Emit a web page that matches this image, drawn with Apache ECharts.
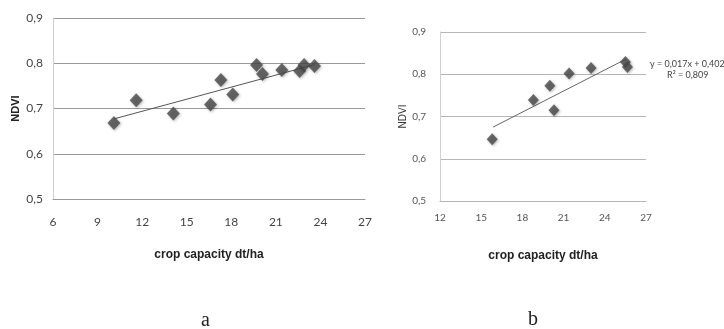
<!DOCTYPE html>
<html>
<head>
<meta charset="utf-8">
<script src="https://cdn.jsdelivr.net/npm/echarts@6/dist/echarts.min.js"></script>
<style>
  html, body { margin: 0; padding: 0; background: #fff; }
  #chart { width: 724px; height: 329px; }
</style>
</head>
<body>
<div id="chart"></div>
<script>
// field a: crop capacity (dt/ha) vs NDVI
const capacityA = [10.1, 11.6, 14.1, 16.6, 17.3, 18.1, 19.7, 20.1, 21.4, 22.6, 22.9, 23.6];
const ndviA = [0.668, 0.718, 0.689, 0.709, 0.763, 0.731, 0.796, 0.776, 0.785, 0.783, 0.796, 0.794];
const trendA = [[10.1, 0.677], [23.6, 0.797]];

// field b
const capacityB = [15.8, 18.8, 20.0, 20.3, 21.4, 23.0, 25.5, 25.65];
const ndviB = [0.646, 0.739, 0.773, 0.715, 0.802, 0.815, 0.829, 0.817];
const trendB = [[15.87, 0.675], [25.55, 0.836]];

const ticksY = [0.5, 0.6, 0.7, 0.8, 0.9];
const xRangeA = [6, 27];
const xRangeB = [12, 27];

const fmt = v => String(+v.toFixed(1)).replace('.', ',');
const pairs = (xs, ys) => xs.map((x, i) => [x, ys[i]]);

const myChart = echarts.init(document.getElementById('chart'), null, { renderer: 'canvas' });

const markerStyle = {
  color: '#474747',
  shadowColor: 'rgba(0,0,0,0.35)',
  shadowBlur: 3,
  shadowOffsetX: 1,
  shadowOffsetY: 1,
};

const option = {
  backgroundColor: '#fff',
  animation: false,
  grid: [
    { left: 53, right: 359, top: 18, bottom: 130 },
    { left: 440, right: 78, top: 32, bottom: 128 },
  ],
  xAxis: [
    {
      gridIndex: 0, type: 'value', min: xRangeA[0], max: xRangeA[1], interval: 3,
      name: 'crop capacity dt/ha', nameLocation: 'middle', nameGap: 50,
      nameTextStyle: { fontFamily: 'Liberation Sans', fontWeight: 'bold', fontSize: 12, color: '#222' },
      axisLine: { show: true, lineStyle: { color: '#9a9a9a' } },
      axisTick: { show: false },
      splitLine: { show: false },
      axisLabel: { margin: 17, fontFamily: 'Lato', fontSize: 12, color: '#444' },
    },
    {
      gridIndex: 1, type: 'value', min: xRangeB[0], max: xRangeB[1], interval: 3,
      name: 'crop capacity dt/ha', nameLocation: 'middle', nameGap: 49,
      nameTextStyle: { fontFamily: 'Liberation Sans', fontWeight: 'bold', fontSize: 12, color: '#222' },
      axisLine: { show: true, lineStyle: { color: '#b5b5b5' } },
      axisTick: { show: false },
      splitLine: { show: false },
      axisLabel: { margin: 12, fontFamily: 'Lato', fontSize: 10, color: '#555' },
    },
  ],
  yAxis: [
    {
      gridIndex: 0, type: 'value', min: ticksY[0], max: ticksY[ticksY.length - 1], interval: 0.1,
      name: 'NDVI', nameLocation: 'middle', nameGap: 32, nameRotate: 90,
      nameTextStyle: { fontFamily: 'Liberation Sans', fontWeight: 'bold', fontSize: 11, color: '#222' },
      axisLine: { show: true, lineStyle: { color: '#d0d0d0' } },
      axisTick: { show: false },
      splitLine: { show: true, lineStyle: { color: '#9a9a9a' } },
      axisLabel: { margin: 10, fontFamily: 'Lato', fontSize: 12, color: '#444', formatter: fmt },
    },
    {
      gridIndex: 1, type: 'value', min: ticksY[0], max: ticksY[ticksY.length - 1], interval: 0.1,
      name: 'NDVI', nameLocation: 'middle', nameGap: 26, nameRotate: 90,
      nameTextStyle: { fontFamily: 'Liberation Sans', fontSize: 10, color: '#333' },
      axisLine: { show: true, lineStyle: { color: '#d0d0d0' } },
      axisTick: { show: false },
      splitLine: { show: true, lineStyle: { color: '#b5b5b5' } },
      axisLabel: { margin: 14, fontFamily: 'Lato', fontSize: 10, color: '#555', formatter: fmt },
    },
  ],
  graphic: [
    { type: 'text', left: 650, top: 60, style: { text: 'y = 0,017x + 0,402', font: '9px Lato', fill: '#444' } },
    { type: 'text', left: 667, top: 71, style: { text: 'R² = 0,809', font: '9px Lato', fill: '#444' } },
    { type: 'text', left: 201, top: 311, style: { text: 'a', font: '20px "Liberation Serif"', fill: '#222' } },
    { type: 'text', left: 528, top: 310, style: { text: 'b', font: '20px "Liberation Serif"', fill: '#222' } },
  ],
  series: [
    {
      type: 'line', xAxisIndex: 0, yAxisIndex: 0, data: trendA, symbol: 'none',
      lineStyle: { color: '#555', width: 1 }, z: 1,
    },
    {
      type: 'scatter', xAxisIndex: 0, yAxisIndex: 0, data: pairs(capacityA, ndviA),
      symbol: 'diamond', symbolSize: [13, 14], itemStyle: markerStyle, z: 2,
    },
    {
      type: 'line', xAxisIndex: 1, yAxisIndex: 1, data: trendB, symbol: 'none',
      lineStyle: { color: '#666', width: 1 }, z: 1,
    },
    {
      type: 'scatter', xAxisIndex: 1, yAxisIndex: 1, data: pairs(capacityB, ndviB),
      symbol: 'diamond', symbolSize: [11, 12], itemStyle: markerStyle, z: 2,
    },
  ],
};

myChart.setOption(option);
window.addEventListener('resize', () => {
  myChart.resize();
});
</script>
</body>
</html>
